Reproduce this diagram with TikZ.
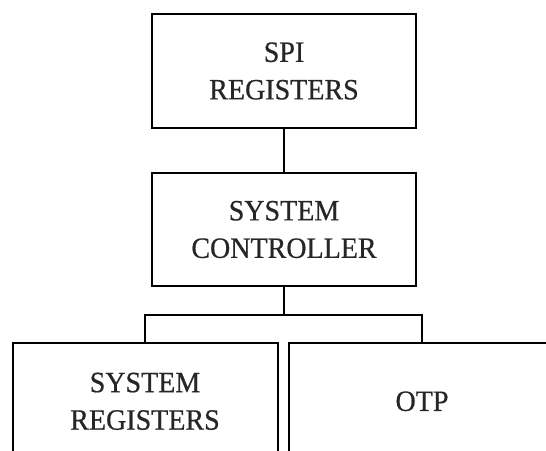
\documentclass[tikz,border=0pt]{standalone}
\usepackage{fontspec}
\setmainfont{Liberation Serif}[FakeStretch=0.95,FakeBold=0.6]
\begin{document}
\begin{tikzpicture}[x=1pt,y=-1pt,
  blk/.style={draw=black,line width=2pt,rectangle,inner sep=0pt,align=center,
    font=\fontsize{29.5}{37.5}\selectfont,text=black!85},
  wire/.style={draw=black,line width=2.4pt}]
\useasboundingbox (0,0) rectangle (546,450);
\clip (0,0) rectangle (546,450);
\node[blk,minimum width=264pt,minimum height=114pt] (spi) at (284,71) {SPI\\REGISTERS};
\node[blk,minimum width=264pt,minimum height=113pt] (ctrl) at (284,229.5) {SYSTEM\\CONTROLLER};
\node[blk,minimum width=265pt,minimum height=117pt] (sreg) at (145,401.3) {SYSTEM\\REGISTERS};
\node[blk,minimum width=266pt,minimum height=117pt] (otp) at (422,401.3) {OTP};
\coordinate (j) at (284,315);
\draw[wire] (spi.south) -- (ctrl.north);
\draw[wire] (ctrl.south) -- (j);
\draw[wire] (sreg.north) |- (j) -| (otp.north);
\end{tikzpicture}
\end{document}
